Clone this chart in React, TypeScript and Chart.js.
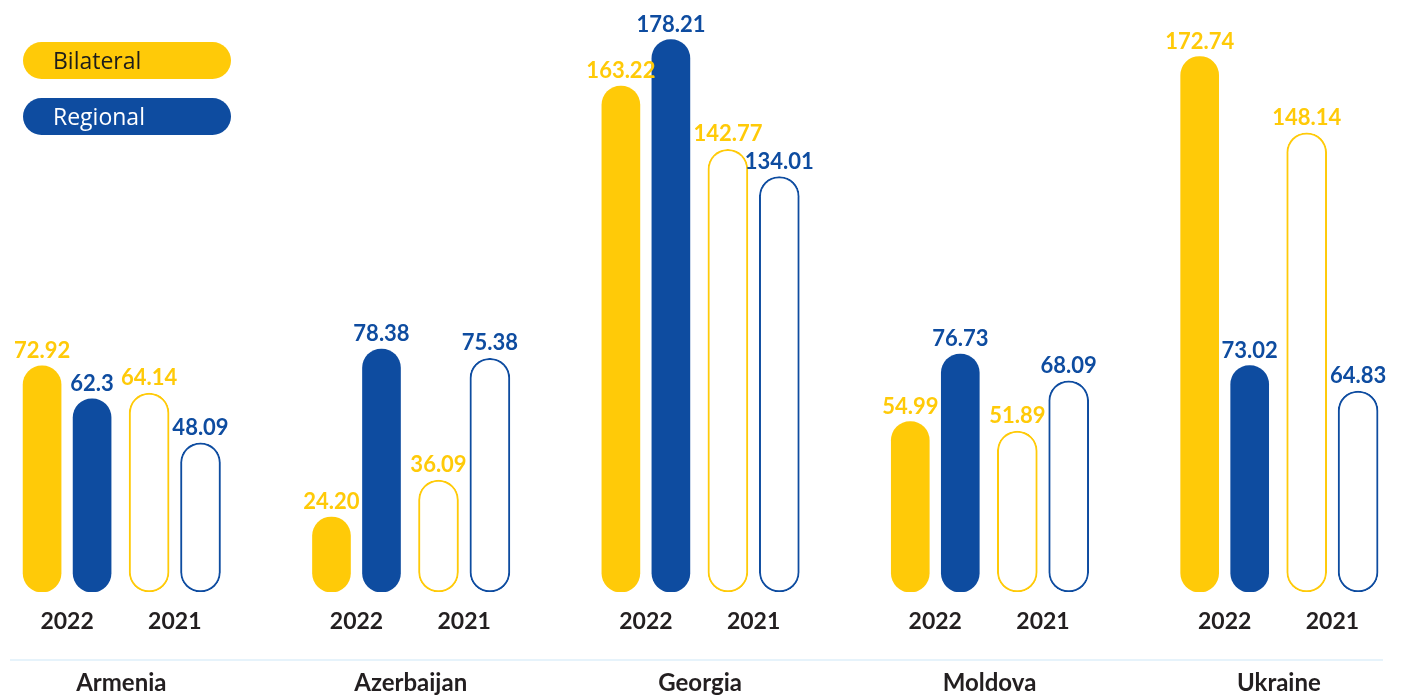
import React, { useEffect, useRef } from 'react';
import { Chart, registerables } from 'chart.js';

Chart.register(...registerables);

// ---- data ----
const countries = ['Armenia', 'Azerbaijan', 'Georgia', 'Moldova', 'Ukraine'];
const years = ['2022', '2021'];
const seriesNames = ['Bilateral', 'Regional'];
const bilateral2022 = ['72.92', '24.20', '163.22', '54.99', '172.74'];
const regional2022 = ['62.3', '78.38', '178.21', '76.73', '73.02'];
const bilateral2021 = ['64.14', '36.09', '142.77', '51.89', '148.14'];
const regional2021 = ['48.09', '75.38', '134.01', '68.09', '64.83'];

// ---- styles ----
const YELLOW = '#FFCA08';
const BLUE = '#0E4CA0';
const TEXT = '#231F20';
const FONT = 'Lato';

// slot offsets inside each country group (in category units)
const SLOT = { y22: -0.2737, b22: -0.1009, y21: 0.0961, b21: 0.2737 };
const YEAR_POS = [(SLOT.y22 + SLOT.b22) / 2, (SLOT.y21 + SLOT.b21) / 2];

const series = [
  { name: seriesNames[0], year: years[0], values: bilateral2022, slot: SLOT.y22, color: YELLOW, filled: true },
  { name: seriesNames[1], year: years[0], values: regional2022, slot: SLOT.b22, color: BLUE, filled: true },
  { name: seriesNames[0], year: years[1], values: bilateral2021, slot: SLOT.y21, color: YELLOW, filled: false },
  { name: seriesNames[1], year: years[1], values: regional2021, slot: SLOT.b21, color: BLUE, filled: false },
];

const X_MIN = -0.3811;
const X_MAX = 4.3563;

const valueLabels = {
  id: 'valueLabels',
  afterDatasetsDraw(chart: any) {
    const ctx = chart.ctx;
    chart.data.datasets.forEach((ds: any, di: number) => {
      const meta = chart.getDatasetMeta(di);
      ctx.save();
      ctx.font = `bold 22px ${FONT}`;
      ctx.fillStyle = ds.labelColor;
      ctx.textAlign = 'center';
      ctx.textBaseline = 'alphabetic';
      meta.data.forEach((el: any, j: number) => {
        ctx.fillText(ds.rawLabels[j], el.x, el.y - 8);
      });
      ctx.restore();
    });
  },
};

export default function App() {
  const canvasRef = useRef<HTMLCanvasElement | null>(null);

  useEffect(() => {
    document.body.style.margin = '0';
    const canvas = canvasRef.current;
    if (!canvas) return;
    const datasets = series.map((s) => ({
      label: `${s.name} ${s.year}`,
      data: s.values.map((v, i) => ({ x: i + s.slot, y: Number(v) })),
      rawLabels: s.values,
      labelColor: s.color,
      backgroundColor: s.filled ? s.color : '#FFFFFF',
      borderColor: s.color,
      borderWidth: s.filled ? 0 : 2,
      barThickness: s.filled ? 38 : 40,
      borderRadius: 20,
      borderSkipped: false,
      xAxisID: 'x',
    }));

    const chart = new Chart(canvas, {
      type: 'bar',
      data: { datasets: datasets as any },
      plugins: [valueLabels as any],
      options: {
        animation: false,
        responsive: false,
        maintainAspectRatio: false,
        layout: { padding: { top: 3, left: 11, right: 24, bottom: 0 } },
        datasets: { bar: { grouped: false } } as any,
        plugins: { legend: { display: false }, tooltip: { enabled: false } },
        scales: {
          x: {
            type: 'linear',
            position: 'bottom',
            weight: 1,
            min: X_MIN,
            max: X_MAX,
            offset: false,
            grid: { display: false, drawTicks: false },
            border: { display: false },
            afterBuildTicks: (scale: any) => {
              scale.ticks = countries.flatMap((_, i) => YEAR_POS.map((p) => ({ value: i + p })));
            },
            afterFit: (scale: any) => {
              scale.height = 68;
            },
            ticks: {
              autoSkip: false,
              maxRotation: 0,
              minRotation: 0,
              padding: 16,
              color: TEXT,
              font: { family: FONT, size: 23, weight: 'bold' },
              callback: (_v: any, index: number) => years[index % 2],
            },
          },
          x2: {
            type: 'linear',
            position: 'bottom',
            weight: 2,
            min: X_MIN,
            max: X_MAX,
            offset: false,
            grid: { display: false, drawTicks: false },
            border: { display: true, color: '#E6F3FB', width: 2 },
            afterBuildTicks: (scale: any) => {
              scale.ticks = countries.map((_, i) => ({ value: i }));
            },
            afterFit: (scale: any) => {
              scale.height = 37;
            },
            ticks: {
              autoSkip: false,
              maxRotation: 0,
              minRotation: 0,
              padding: 9,
              color: TEXT,
              font: { family: FONT, size: 24, weight: 'bold' },
              callback: (_v: any, index: number) => countries[index],
            },
          },
          y: {
            display: false,
            min: 0,
            max: 190,
          },
        },
      } as any,
    });
    return () => chart.destroy();
  }, []);

  const pill = (bg: string, color: string, top: number): React.CSSProperties => ({
    position: 'absolute',
    left: 23,
    top,
    width: 208,
    height: 37,
    borderRadius: 18.5,
    background: bg,
    color,
    fontFamily: '"Open Sans", sans-serif',
    fontWeight: 400,
    fontSize: 23,
    lineHeight: '37px',
    paddingLeft: 30,
    boxSizing: 'border-box',
  });

  return (
    <div style={{ position: 'relative', width: 1406, height: 697, background: '#FFFFFF' }}>
      <canvas ref={canvasRef} width={1406} height={697} style={{ display: 'block' }} />
      <div style={pill(YELLOW, '#1D1D1B', 42)}>{seriesNames[0]}</div>
      <div style={pill(BLUE, '#FFFFFF', 98)}>{seriesNames[1]}</div>
    </div>
  );
}
